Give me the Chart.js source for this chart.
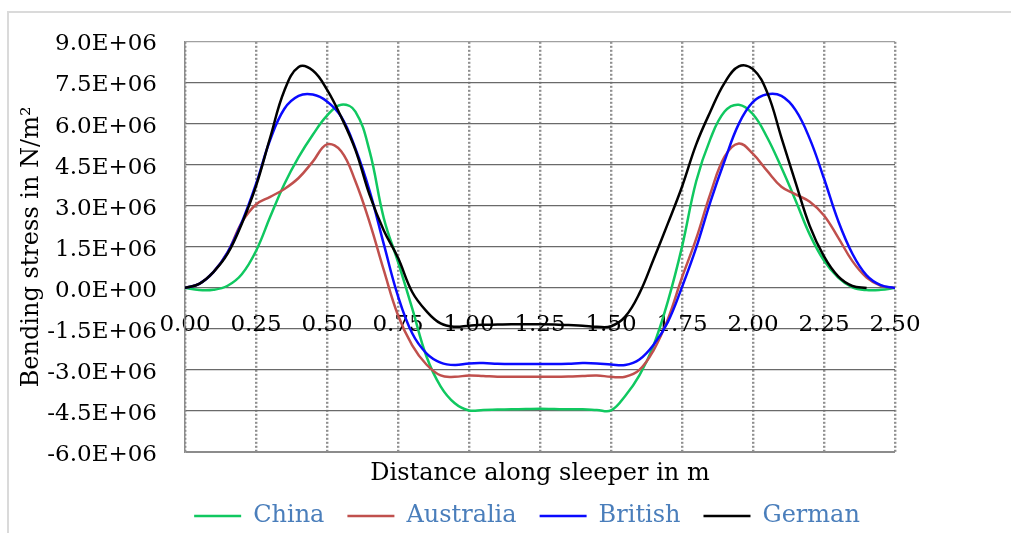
<!DOCTYPE html>
<html>
<head>
<meta charset="utf-8">
<script src="https://cdn.jsdelivr.net/npm/chart.js@4.4.1/dist/chart.umd.min.js"></script>
<style>
html,body{margin:0;padding:0;background:#fff;width:1011px;height:533px;overflow:hidden;}
#frame{position:absolute;left:7px;top:11px;width:1100px;height:600px;border-top:2px solid #dadada;border-left:2px solid #dadada;}
#wrap{position:absolute;left:0;top:0;width:1011px;height:533px;}
</style>
</head>
<body>
<div id="frame"></div>
<div id="wrap"><canvas id="c" width="1011" height="533"></canvas></div>
<script>
// Distance along sleeper (m)
const distance = [0.00,0.05,0.10,0.15,0.20,0.25,0.30,0.35,0.40,0.45,0.50,0.55,0.60,0.65,0.70,0.75,0.80,0.85,0.90,0.95,
  1.00,1.05,1.10,1.15,1.20,1.25,1.30,1.35,1.40,1.45,1.50,1.55,1.60,1.65,1.70,1.75,1.80,1.85,1.90,1.95,
  2.00,2.05,2.10,2.15,2.20,2.25,2.30,2.35,2.40,2.45,2.50];

// Bending stress, in units of 1E+06 N/m^2
const china = [0,-0.08,-0.07,0.08,0.5,1.35,2.6,3.8,4.78,5.6,6.3,6.7,6.45,5.0,2.55,0.95,-0.75,-2.5,-3.6,-4.22,
  -4.48,-4.46,-4.45,-4.44,-4.43,-4.42,-4.43,-4.44,-4.44,-4.46,-4.48,-3.95,-3.2,-2.1,-0.5,1.5,3.9,5.45,6.45,6.7,
  6.35,5.5,4.4,3.2,1.95,1.0,0.38,0.02,-0.08,-0.07,0];
const australia = [0,0.15,0.58,1.3,2.4,3.05,3.33,3.62,4.02,4.62,5.25,5.0,3.9,2.4,0.65,-1.0,-2.1,-2.8,-3.2,-3.25,
  -3.2,-3.22,-3.25,-3.25,-3.25,-3.25,-3.25,-3.24,-3.22,-3.2,-3.25,-3.25,-3.0,-2.28,-1.15,0.38,1.8,3.45,4.8,5.28,
  4.9,4.28,3.7,3.42,3.15,2.65,1.84,0.98,0.38,0.08,0];
const british = [0,0.15,0.58,1.3,2.4,3.8,5.42,6.55,7.02,7.07,6.82,6.26,5.1,3.55,1.6,-0.3,-1.66,-2.39,-2.73,-2.82,
  -2.76,-2.75,-2.77,-2.78,-2.78,-2.78,-2.78,-2.77,-2.75,-2.76,-2.8,-2.82,-2.62,-2.08,-1.25,0.03,1.47,3.15,4.65,6.0,
  6.8,7.08,7.02,6.5,5.45,4.0,2.45,1.25,0.46,0.1,0];
const german = [0,0.15,0.58,1.25,2.35,3.72,5.5,7.22,8.08,7.95,7.25,6.25,5.05,3.4,2.1,1.1,-0.15,-0.85,-1.3,-1.42,
  -1.38,-1.35,-1.34,-1.33,-1.33,-1.33,-1.34,-1.36,-1.38,-1.42,-1.4,-1.05,-0.2,1.05,2.35,3.7,5.25,6.45,7.5,8.1,
  8.0,7.15,5.5,3.85,2.26,1.15,0.42,0.07,0,null,null];

const seriesNames = ['China','Australia','British','German'];
const seriesData = [china, australia, british, german];
const seriesColors = ['#10c860','#c0504d','#0a0aff','#000000'];

const xTickValues = [0,0.25,0.5,0.75,1,1.25,1.5,1.75,2,2.25,2.5];
const yMin = -6, yMax = 9, yStep = 1.5;

const FONT = 'DejaVu Serif';
Chart.defaults.font.family = FONT;

function fmtE(v){
  const real = v * 1e6;
  if (Math.abs(real) < 1e-6) return '0.0E+00';
  const exp = Math.floor(Math.log10(Math.abs(real)) + 1e-9);
  const mant = real / Math.pow(10, exp);
  const e = Math.abs(exp);
  return mant.toFixed(1) + 'E' + (exp >= 0 ? '+' : '-') + (e < 10 ? '0' + e : '' + e);
}

const pts = arr => distance.map((x,i)=>({x:x, y:arr[i]})).filter(p=>p.y!==null);

const datasets = seriesNames.map((name,i)=>({
  label: name,
  data: pts(seriesData[i]),
  borderColor: seriesColors[i],
  backgroundColor: seriesColors[i],
  borderWidth: 2.5,
  pointRadius: 0,
  fill: false,
  tension: 0.4,
  order: seriesNames.length - i
}));

const legendHeight = {
  id: 'legendHeight',
  beforeInit(chart){
    const lg = chart.legend;
    if (!lg) return;
    const orig = lg.fit;
    lg.fit = function(){ orig.call(this); this.height = 52; };
  }
};

new Chart(document.getElementById('c'), {
  type: 'line',
  data: { datasets: datasets },
  options: {
    responsive: false,
    animation: false,
    events: [],
    layout: { padding: { left: 43, right: 0, top: 36, bottom: 0 } },
    plugins: {
      tooltip: { enabled: false },
      legend: {
        position: 'bottom',
        align: 'center',
        labels: {
          usePointStyle: true,
          pointStyle: 'line',
          pointStyleWidth: 47,
          padding: 23,
          color: '#4a7ebb',
          font: { family: FONT, size: 24 },
          sort: (a,b) => a.datasetIndex - b.datasetIndex
        }
      }
    },
    scales: {
      x: {
        type: 'linear', position: 'bottom', min: 0, max: 2.5,
        afterBuildTicks: s => { s.ticks = xTickValues.map(v=>({value:v})); },
        ticks: { display: false },
        grid: { color: '#8f8f8f', lineWidth: 2.4, drawTicks: false },
        border: { display: false, dash: [2,2] },
        title: { display: true, text: 'Distance along sleeper in m', color: '#000',
                 font: { family: FONT, size: 24 }, padding: { top: 0, bottom: -7.5 } },
        afterFit: s => { s.height = 29; }
      },
      x2: {
        type: 'linear', axis: 'x', position: { y: 0 }, min: 0, max: 2.5,
        afterBuildTicks: s => { s.ticks = xTickValues.map(v=>({value:v})); },
        ticks: { callback: v => Number(v).toFixed(2), color: '#000', font: { family: FONT, size: 23 },
                 padding: 23, autoSkip: false, maxRotation: 0 },
        grid: { display: false, drawTicks: false },
        border: { display: false }
      },
      y: {
        type: 'linear', position: 'left', min: yMin, max: yMax,
        ticks: { stepSize: yStep, callback: fmtE, color: '#000', font: { family: FONT, size: 23 },
                 padding: 28, labelOffset: 2.7 },
        grid: {
          color: c => (c.tick && c.tick.value === yMin) ? '#8c8c8c' : ((c.tick && c.tick.value === yMax) ? '#a0a0a0' : '#6a6a6a'),
          lineWidth: c => (c.tick && c.tick.value === yMin) ? 2 : 1.3,
          drawTicks: false
        },
        border: { display: true, color: '#8c8c8c', width: 1.5 },
        title: { display: true, text: 'Bending stress in N/m²', color: '#000',
                 font: { family: FONT, size: 24 }, padding: { top: -25.4, bottom: 0 } },
        afterFit: s => { s.width = 142; }
      },
      yr: {
        type: 'linear', axis: 'y', position: 'right', display: true,
        ticks: { display: false },
        grid: { display: false, drawTicks: false },
        border: { display: false },
        afterFit: s => { s.width = 116; }
      }
    }
  },
  plugins: [legendHeight]
});
</script>
</body>
</html>
